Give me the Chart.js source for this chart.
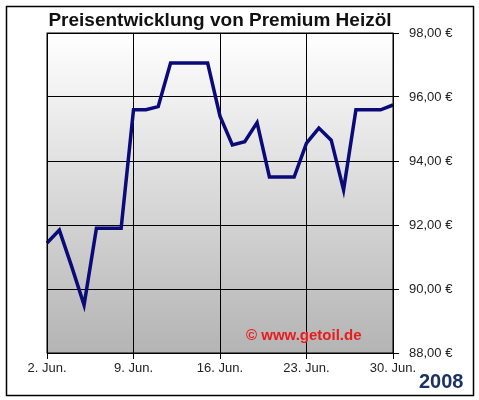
<!DOCTYPE html>
<html>
<head>
<meta charset="utf-8">
<script src="https://cdn.jsdelivr.net/npm/chart.js@4"></script>
<style>
  body { margin: 0; background: #fff; }
  canvas { position: absolute; left: 0; top: 0; }
</style>
</head>
<body>
<canvas id="c" width="479" height="400"></canvas>
<script>
// June 2008, one value per day
const days = [];
for (let d = 2; d <= 30; d++) days.push(d + '. Jun.');
const prices = [91.44, 91.84, 90.7, 89.5, 91.9, 91.9, 91.9, 95.6, 95.6, 95.7,
  97.06, 97.06, 97.06, 97.06, 95.4, 94.5, 94.6, 95.2, 93.5, 93.5,
  93.5, 94.56, 95.03, 94.65, 93.1, 95.6, 95.6, 95.6, 95.75];
const yTicks = [88, 90, 92, 94, 96, 98];
const FONT = 'Arial, "Liberation Sans", sans-serif';

const bgPlugin = {
  id: 'bg',
  beforeDraw(chart) {
    const { ctx, chartArea: a } = chart;
    const g = ctx.createLinearGradient(0, a.top, 0, a.bottom);
    g.addColorStop(0, '#ffffff');
    g.addColorStop(1, '#b4b4b4');
    ctx.save();
    ctx.fillStyle = g;
    ctx.fillRect(a.left, a.top, a.right - a.left, a.bottom - a.top);
    ctx.strokeStyle = '#000';
    ctx.lineWidth = 1.5;
    ctx.strokeRect(6.5, 6.5, 467, 389);
    ctx.restore();
  },
  afterDraw(chart) {
    const { ctx, chartArea: a } = chart;
    ctx.save();
    ctx.strokeStyle = '#000';
    ctx.lineWidth = 1;
    ctx.strokeRect(a.left, a.top, a.right - a.left, a.bottom - a.top);
    ctx.textBaseline = 'middle';
    ctx.textAlign = 'center';
    ctx.fillStyle = '#111';
    ctx.font = 'bold 19px ' + FONT;
    ctx.fillText('Preisentwicklung von Premium Heizöl', (a.left + a.right) / 2, 21);
    ctx.textAlign = 'left';
    ctx.font = 'bold 15px ' + FONT;
    ctx.fillStyle = '#e81c1c';
    ctx.fillText('© www.getoil.de', 246, 336);
    ctx.font = 'bold 20px ' + FONT;
    ctx.fillStyle = '#1a3264';
    ctx.fillText('2008', 419, 382);
    ctx.restore();
  }
};

new Chart(document.getElementById('c'), {
  type: 'line',
  data: {
    labels: days,
    datasets: [{
      data: prices,
      borderColor: '#0a0a78',
      borderWidth: 3.5,
      pointRadius: 0,
      tension: 0,
      fill: false
    }]
  },
  options: {
    responsive: false,
    animation: false,
    layout: { padding: { left: 47, right: 0, top: 33, bottom: 22 } },
    plugins: { legend: { display: false }, tooltip: { enabled: false } },
    scales: {
      x: {
        offset: false,
        afterFit: (s) => { s.height = 25; },
        grid: {
          color: (c) => c.index % 7 === 0 ? '#000' : 'rgba(0,0,0,0)',
          tickLength: 6,
          tickColor: (c) => c.index % 7 === 0 ? '#000' : 'rgba(0,0,0,0)'
        },
        border: { color: '#000' },
        ticks: {
          autoSkip: false,
          maxRotation: 0,
          padding: 2,
          color: '#222',
          font: { family: FONT, size: 13 },
          callback: (v, i) => i % 7 === 0 ? days[i] : ''
        }
      },
      y: {
        position: 'right',
        min: 88,
        max: 98,
        afterBuildTicks: (s) => { s.ticks = yTicks.map(v => ({ value: v })); },
        afterFit: (s) => { s.width = 86; },
        grid: { color: '#000', tickLength: 6, tickColor: '#000' },
        border: { color: '#000' },
        ticks: {
          color: '#222',
          padding: 10,
          font: { family: FONT, size: 13 },
          callback: (v) => v.toFixed(2).replace('.', ',') + ' €'
        }
      }
    }
  },
  plugins: [bgPlugin]
});
</script>
</body>
</html>
